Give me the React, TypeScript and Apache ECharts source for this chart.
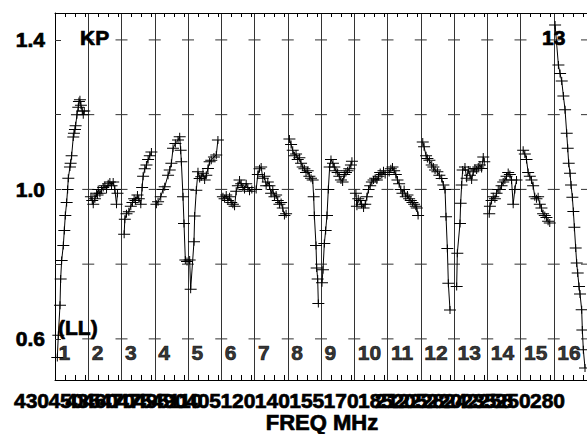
import React, { useEffect, useRef } from 'react';
import * as echarts from 'echarts';

// ---- data (x = fraction inside panel, y = ratio) ----
const p1 = [[0.07,0.55],[0.10,0.61],[0.15,0.69],[0.17,0.76],[0.20,0.81],[0.25,0.85],[0.28,0.89],[0.31,0.93],[0.35,0.965],[0.38,1.0],[0.40,1.03],[0.45,1.06],[0.47,1.07],[0.50,1.09],[0.55,1.14],[0.57,1.15],[0.60,1.16],[0.62,1.17],[0.66,1.2],[0.70,1.22],[0.72,1.235],[0.75,1.24],[0.78,1.225],[0.82,1.21],[0.85,1.2],[0.88,1.21]];
const p2 = [[0.08,0.98],[0.12,0.97],[0.15,0.96],[0.20,0.975],[0.25,0.99],[0.28,0.985],[0.30,1.0],[0.35,0.99],[0.40,1.0],[0.45,1.005],[0.50,1.01],[0.55,1.0],[0.60,1.015],[0.65,1.02],[0.70,1.01],[0.75,1.02],[0.80,1.0],[0.85,0.96],[0.88,0.99]];
const p3 = [[0.08,0.88],[0.10,0.92],[0.15,0.935],[0.22,0.94],[0.28,0.955],[0.33,0.965],[0.38,0.975],[0.42,0.97],[0.48,0.985],[0.52,0.975],[0.58,0.96],[0.62,1.005],[0.65,1.035],[0.70,1.055],[0.75,1.065],[0.80,1.08],[0.85,1.09],[0.90,1.1]];
const p4 = [[0.05,0.96],[0.10,0.967],[0.18,0.98],[0.25,1.0],[0.30,1.007],[0.40,1.038],[0.45,1.052],[0.50,1.07],[0.55,1.11],[0.62,1.123],[0.70,1.132],[0.75,1.141],[0.78,1.105],[0.80,1.074],[0.85,0.98],[0.88,0.909],[0.92,0.811],[0.97,0.807]];
const p5 = [[0.05,0.811],[0.08,0.733],[0.18,0.86],[0.20,0.929],[0.25,0.998],[0.30,1.047],[0.35,1.029],[0.40,1.034],[0.45,1.043],[0.50,1.025],[0.55,1.038],[0.60,1.056],[0.65,1.074],[0.70,1.078],[0.78,1.087],[0.85,1.092],[0.90,1.132]];
const p6 = [[0.05,0.98],[0.10,0.975],[0.15,0.985],[0.20,0.97],[0.25,0.98],[0.30,0.965],[0.35,0.96],[0.40,0.955],[0.45,0.995],[0.50,1.01],[0.55,1.025],[0.60,1.015],[0.65,1.005],[0.70,1.0],[0.75,1.015],[0.80,1.005],[0.85,0.995],[0.92,1.0]];
const p7 = [[0.05,1.0],[0.10,1.04],[0.15,1.055],[0.20,1.06],[0.25,1.03],[0.30,1.035],[0.35,1.01],[0.40,1.02],[0.45,1.01],[0.50,0.99],[0.55,1.0],[0.60,0.98],[0.65,0.985],[0.70,0.97],[0.75,0.96],[0.80,0.965],[0.85,0.95],[0.90,0.93],[0.95,0.935]];
const p8 = [[0.05,1.135],[0.10,1.12],[0.15,1.105],[0.20,1.09],[0.25,1.095],[0.30,1.08],[0.35,1.085],[0.40,1.07],[0.45,1.06],[0.50,1.055],[0.55,1.045],[0.60,1.05],[0.65,1.035],[0.70,1.03],[0.75,1.025],[0.78,0.98],[0.80,0.93],[0.85,0.85],[0.87,0.79],[0.90,0.76],[0.92,0.695]];
const p9 = [[0.03,0.75],[0.06,0.785],[0.10,0.855],[0.14,0.89],[0.18,0.93],[0.22,1.0],[0.26,1.06],[0.30,1.08],[0.36,1.07],[0.40,1.06],[0.45,1.05],[0.50,1.045],[0.55,1.035],[0.60,1.025],[0.65,1.02],[0.70,1.04],[0.75,1.045],[0.80,1.05],[0.85,1.055],[0.90,1.065],[0.93,1.075]];
const p10 = [[0.05,0.99],[0.08,0.955],[0.12,0.975],[0.18,0.97],[0.22,0.96],[0.28,0.95],[0.33,0.96],[0.38,0.98],[0.43,1.0],[0.48,1.01],[0.53,1.02],[0.58,1.025],[0.63,1.03],[0.68,1.025],[0.73,1.035],[0.78,1.045],[0.83,1.04],[0.88,1.05],[0.93,1.04]];
const p11 = [[0.05,1.045],[0.10,1.055],[0.15,1.06],[0.20,1.05],[0.25,1.04],[0.30,1.025],[0.35,1.015],[0.40,1.0],[0.45,0.99],[0.50,1.0],[0.55,0.98],[0.60,0.985],[0.65,0.975],[0.70,0.97],[0.75,0.965],[0.80,0.96],[0.85,0.955],[0.88,0.95],[0.92,0.93]];
const p12 = [[0.06,1.127],[0.10,1.114],[0.16,1.09],[0.20,1.083],[0.26,1.078],[0.33,1.065],[0.38,1.06],[0.43,1.052],[0.50,1.047],[0.56,1.038],[0.63,1.029],[0.68,1.012],[0.73,1.0],[0.76,0.927],[0.80,0.842],[0.83,0.749],[0.88,0.677]];
const p13 = [[0.08,0.74],[0.10,0.829],[0.18,0.909],[0.20,0.963],[0.23,1.012],[0.26,1.052],[0.33,1.06],[0.38,1.03],[0.43,1.052],[0.48,1.038],[0.53,1.025],[0.58,1.047],[0.63,1.056],[0.68,1.052],[0.73,1.06],[0.78,1.065],[0.83,1.056],[0.88,1.087],[0.91,1.074]];
const p14 = [[0.06,0.935],[0.08,0.955],[0.13,0.97],[0.18,0.98],[0.23,0.975],[0.28,0.99],[0.33,1.0],[0.38,1.0],[0.43,1.01],[0.48,1.02],[0.53,1.025],[0.58,1.035],[0.63,1.045],[0.68,1.04],[0.73,1.025],[0.78,0.96],[0.83,1.0],[0.88,1.025]];
const p15 = [[0.08,1.105],[0.13,1.095],[0.18,1.08],[0.23,1.045],[0.28,1.035],[0.33,1.025],[0.38,1.01],[0.43,0.98],[0.48,0.975],[0.53,0.98],[0.58,0.96],[0.63,0.95],[0.68,0.935],[0.73,0.93],[0.78,0.925],[0.83,0.915],[0.88,0.91]];
const p16 = [[0.04,1.44],[0.14,1.333],[0.19,1.31],[0.24,1.29],[0.29,1.25],[0.34,1.213],[0.39,1.15],[0.42,1.11],[0.45,1.07],[0.49,1.043],[0.52,1.012],[0.56,0.979],[0.59,0.941],[0.62,0.899],[0.66,0.843],[0.69,0.803],[0.72,0.776],[0.76,0.74],[0.79,0.72],[0.84,0.678],[0.86,0.624],[0.89,0.571],[0.94,0.522]];

const panelCurves = [p1, p2, p3, p4, p5, p6, p7, p8, p9, p10, p11, p12, p13, p14, p15, p16];
const panelNumbers = ['1','2','3','4','5','6','7','8','9','10','11','12','13','14','15','16'];
const yTickLabels = [0.6, 1.0, 1.4];
const yGridLevels = [0.6, 0.8, 1.0, 1.2, 1.4];
const freqLabelsA = ['430','450','460','475','490','405','120','140','155','170','185','205','220','235','250','280'];
const freqLabelsB = ['435','470','495','110','212','228','242','258'];

const FONT = '"Liberation Sans", Arial, Helvetica, sans-serif';
const CROSS = 'path://M0,3.5L12,3.5L12,4.5L0,4.5Z M5.5,0L6.5,0L6.5,8L5.5,8Z';

function buildOption() {
  const nPanels = panelCurves.length;
  const minorTicks: number[] = [];
  for (let k = 0; k < nPanels; k++) [0.3, 0.6, 0.9].forEach((j) => minorTicks.push(k + j));
  const dashData: number[][] = [];
  for (let k = 1; k <= nPanels; k++) yGridLevels.forEach((v) => dashData.push([k, v]));

  const textEl = (text: string, x: number, y: number, size = 21, align = 'left') => ({
    type: 'text', x, y, silent: true, z: 20,
    style: { text, fill: '#000', stroke: '#000', lineWidth: 0.7, font: `bold ${size}px ${FONT}`, align, verticalAlign: 'middle' },
  });

  const freqEls: any[] = [];
  freqLabelsA.forEach((t, i) => freqEls.push(textEl(t, 14 + i * 34.4, 400)));
  const bSlots = [1, 2, 3, 4, 10, 11, 12, 13];
  freqLabelsB.forEach((t, i) => freqEls.push(textEl(t, 31 + bSlots[i] * 34.4, 400)));

  const axisBase = {
    type: 'value', min: 0, max: nPanels, axisLabel: { show: false }, splitLine: { show: false },
    axisLine: { show: true, onZero: false, lineStyle: { color: '#000', width: 1 } },
  };

  return {
    animation: false,
    backgroundColor: '#fff',
    grid: { left: 55, right: 0, top: 13, bottom: 54, containLabel: false },
    xAxis: [
      { ...axisBase, position: 'bottom', axisTick: { show: true, inside: true, length: 5, customValues: minorTicks, lineStyle: { color: '#000' } } },
      { ...axisBase, position: 'top', axisTick: { show: true, inside: true, length: 4, customValues: minorTicks, lineStyle: { color: '#000' } } },
      { type: 'value', min: 0, max: nPanels, interval: 1, position: 'bottom', axisLine: { show: false }, axisTick: { show: false }, axisLabel: { show: false },
        splitLine: { show: true, lineStyle: { color: '#333', width: 1 } } },
    ],
    yAxis: {
      type: 'value', min: 0.49, max: 1.472,
      axisLine: { show: true, lineStyle: { color: '#000', width: 1 } },
      axisTick: { show: true, inside: true, length: 6, customValues: yGridLevels, lineStyle: { color: '#333' } },
      axisLabel: { show: true, customValues: yTickLabels, formatter: (v: number) => v.toFixed(1), margin: 10,
        fontSize: 21, fontWeight: 'bold', color: '#000', fontFamily: FONT, textBorderColor: '#000', textBorderWidth: 0.7 },
      splitLine: { show: false },
    },
    series: [
      {
        type: 'custom', xAxisIndex: 0, yAxisIndex: 0, silent: true, data: dashData,
        renderItem: (params: any, api: any) => {
          const p = api.coord([api.value(0), api.value(1)]);
          return { type: 'line', shape: { x1: p[0] - 6, y1: p[1], x2: p[0] + 6, y2: p[1] }, style: { stroke: '#333', lineWidth: 1 } };
        },
      },
      ...panelCurves.map((pts, k) => ({
        type: 'line', xAxisIndex: 0, yAxisIndex: 0, silent: true,
        data: pts.map(([f, v]) => [k + f, v]),
        symbol: CROSS, symbolSize: [12, 8], showSymbol: true,
        itemStyle: { color: '#000' },
        lineStyle: { color: '#000', width: 1 },
        z: 5,
      })),
      {
        type: 'scatter', xAxisIndex: 0, yAxisIndex: 0, silent: true,
        data: panelNumbers.map((_, k) => [k + 0.09, 0.564]),
        symbolSize: 1, itemStyle: { color: 'rgba(0,0,0,0)' },
        label: { show: true, position: 'right', distance: 0, formatter: (p: any) => panelNumbers[p.dataIndex],
          fontSize: 21, fontWeight: 'bold', color: '#000', fontFamily: FONT, textBorderColor: '#000', textBorderWidth: 0.7 },
        z: 10,
      },
    ],
    graphic: [
      textEl('KP', 80, 37),
      textEl('13', 542, 37),
      textEl('(LL)', 58, 327),
      textEl('FREQ MHz', 322, 422, 22, 'center'),
      ...freqEls,
    ],
  };
}

export default function App() {
  const ref = useRef<HTMLDivElement>(null);
  useEffect(() => {
    const chart = echarts.init(ref.current!, null, { renderer: 'svg' });
    chart.setOption(buildOption() as any);
    return () => chart.dispose();
  }, []);
  return (
    <div
      ref={ref}
      style={{ position: 'fixed', left: 0, top: 0, width: 587, height: 434, background: '#fff' }}
    />
  );
}
